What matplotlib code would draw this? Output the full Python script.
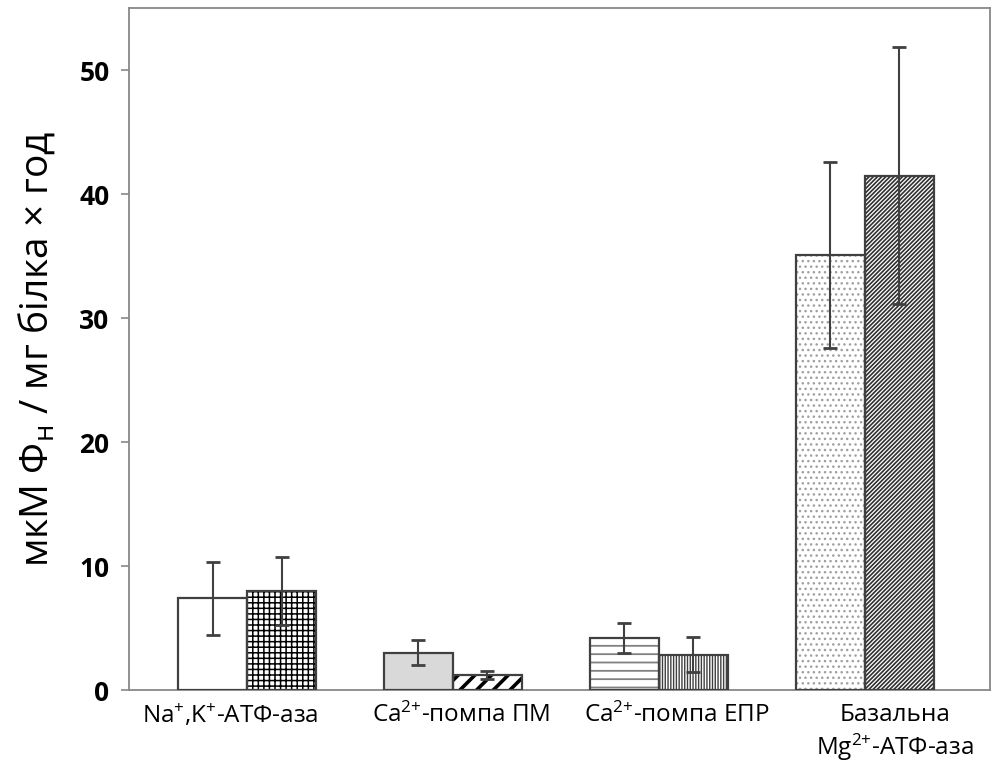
import matplotlib
matplotlib.use("Agg")
import matplotlib.pyplot as plt
import matplotlib.transforms as mtransforms
import numpy as np

plt.rcParams['font.family'] = ['Open Sans', 'DejaVu Sans']
plt.rcParams['mathtext.fontset'] = 'custom'
plt.rcParams['mathtext.rm'] = 'Open Sans'
plt.rcParams['mathtext.it'] = 'Open Sans'

# ATPase activities, two samples per enzyme
categories = ['Na$^{+}$,K$^{+}$-АТФ-аза',
              'Ca$^{2{+}}$-помпа ПМ',
              'Ca$^{2{+}}$-помпа ЕПР',
              'Базальна\nMg$^{2{+}}$-АТФ-аза']
first_vals = [7.4, 3.0, 4.2, 35.1]
first_err = [2.95, 1.0, 1.2, 7.5]
second_vals = [8.0, 1.2, 2.85, 41.5]
second_err = [2.75, 0.35, 1.4, 10.4]

# per-bar look: (fill, hatch, hatch colour, hatch width)
first_styles = [('white', '', 'black', 1.0),
                ('#d9d9d9', '', 'black', 1.0),
                ('white', '--', '#808080', 1.3),
                ('white', '...', '#a0a0a0', 1.0)]
second_styles = [('white', '+++', 'black', 1.1),
                 ('white', '//', 'black', 2.6),
                 ('white', '||||||', '#404040', 1.0),
                 ('white', '////////', '#303030', 1.2)]

edge = '#404040'
width = 0.335
x = np.arange(len(categories))

fig = plt.figure(figsize=(10.08, 7.74), dpi=100)
ax = fig.add_axes([0.128, 0.1085, 0.854, 0.881])


def draw_bar(xpos, val, err, style):
    fill, hatch, hcolor, hlw = style
    with plt.rc_context({'hatch.linewidth': hlw}):
        ax.bar(xpos, val, width, color=fill, edgecolor=hcolor, hatch=hatch,
               linewidth=0, zorder=2)
    ax.bar(xpos, val, width, color='none', edgecolor=edge, linewidth=1.6, zorder=3)
    ax.errorbar(xpos, val, yerr=err, fmt='none', ecolor=edge, elinewidth=1.5,
                capsize=5, capthick=2, zorder=4)


for i in range(len(categories)):
    draw_bar(x[i] - width / 2, first_vals[i], first_err[i], first_styles[i])
    draw_bar(x[i] + width / 2, second_vals[i], second_err[i], second_styles[i])

ax.set_xlim(-0.573, 3.607)
ax.set_ylim(0, 55)
ax.set_yticks([0, 10, 20, 30, 40, 50])
ax.set_xticks(x)
ax.set_xticklabels(categories, fontsize=17.5, linespacing=1.25)
ax.tick_params(axis='x', length=0, pad=9)
ax.tick_params(axis='y', length=6, width=1.2, color='#888888', pad=8, labelsize=19)
for lbl in ax.get_yticklabels():
    lbl.set_fontweight('bold')

# shift the category labels a little, as in the original layout
shifts = [-17, 8, 18, 30]
for lbl, dx in zip(ax.get_xticklabels(), shifts):
    lbl.set_transform(lbl.get_transform() +
                      mtransforms.ScaledTranslation(dx / 100, 0, fig.dpi_scale_trans))

for sp in ax.spines.values():
    sp.set_color('#888888')
    sp.set_linewidth(1.3)

ax.set_ylabel('мкМ Ф$_{\\mathregular{н}}$ / мг білка × год', fontsize=28, labelpad=16)

fig.savefig('out.png', dpi=100)
